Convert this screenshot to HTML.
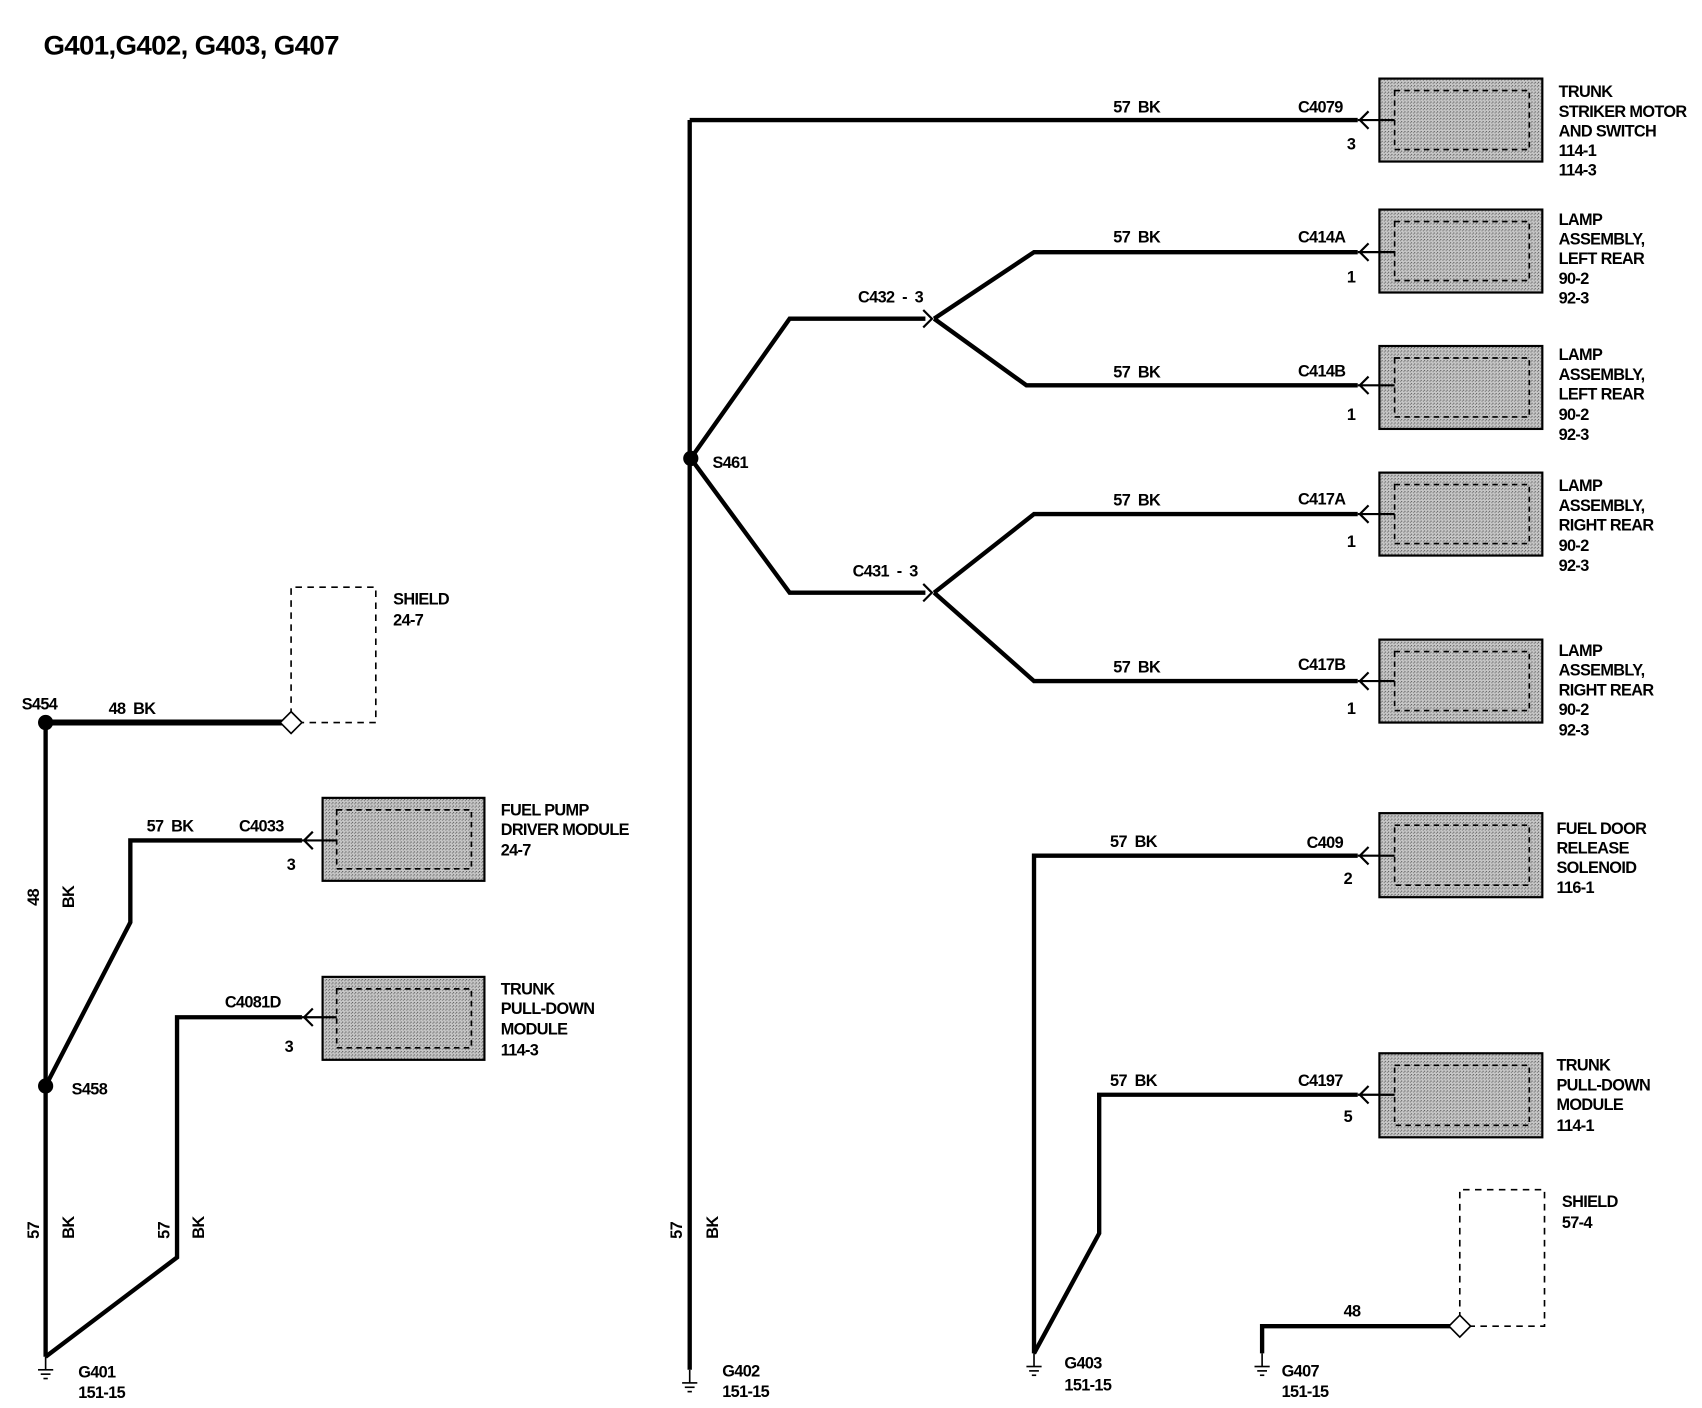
<!DOCTYPE html>
<html><head><meta charset="utf-8"><style>
html,body{margin:0;padding:0;background:#fff;}
svg{display:block;}
text{font-family:"Liberation Sans",Arial,sans-serif;font-weight:bold;fill:#000;letter-spacing:-0.6px;}
</style></head><body>
<svg width="1702" height="1408" viewBox="0 0 1567 1290" preserveAspectRatio="none" xmlns="http://www.w3.org/2000/svg">
<defs>
<pattern id="dots" width="3" height="3" patternUnits="userSpaceOnUse">
<rect width="3" height="3" fill="#c8c8c8"/><rect width="1" height="1" fill="#555"/><rect x="2" y="1" width="1" height="1" fill="#777"/>
</pattern>
<g id="gnd" stroke="#000" stroke-width="1.5" fill="none">
<line x1="0" y1="0" x2="0" y2="12"/><line x1="-7" y1="12" x2="7" y2="12"/><line x1="-4.5" y1="16" x2="4.5" y2="16"/><line x1="-2" y1="20" x2="2" y2="20"/>
</g>
</defs>
<text x="40" y="50" font-size="25" textLength="272" lengthAdjust="spacingAndGlyphs">G401,G402, G403, G407</text>

<g fill="none" stroke="#000" stroke-linejoin="miter">
<line x1="42" y1="662" x2="262" y2="662" stroke-width="5.5"/>
<line x1="42" y1="662" x2="42" y2="1243" stroke-width="4"/>
<polyline points="42,995 120,845 120,770 278,770" stroke-width="4"/>
<polyline points="42,1243 163,1152 163,932 278,932" stroke-width="4"/>
<line x1="635" y1="110" x2="635" y2="1255" stroke-width="4"/>
<line x1="635" y1="110" x2="1250" y2="110" stroke-width="4"/>
<polyline points="636,420 727,292 852,292" stroke-width="4"/>
<polyline points="860,292 952,231 1250,231" stroke-width="4"/>
<polyline points="860,292 945,353 1250,353" stroke-width="4"/>
<polyline points="636,420 727,543 852,543" stroke-width="4"/>
<polyline points="860,543 952,471 1250,471" stroke-width="4"/>
<polyline points="860,543 952,624 1250,624" stroke-width="4"/>
<polyline points="952,1240 952,784 1250,784" stroke-width="4"/>
<polyline points="952,1240 1012,1130 1012,1003 1250,1003" stroke-width="4"/>
<polyline points="1162,1240 1162,1215 1336,1215" stroke-width="4"/>
<polyline points="850,284 858,292 850,300" stroke-width="2"/>
<polyline points="850,535 858,543 850,551" stroke-width="2"/>
<path d="M268,655 V538 H346 V662 H276" stroke-width="1.5" stroke-dasharray="6,5"/>
<path d="M1344,1208 V1090 H1422 V1215 H1352" stroke-width="1.5" stroke-dasharray="6,5"/>
<path d="M268,652 L278,662 L268,672 L258,662 Z" stroke-width="1.5" fill="#fff"/>
<path d="M1344,1205 L1354,1215 L1344,1225 L1334,1215 Z" stroke-width="1.5" fill="#fff"/>
</g>
<g fill="#000"><circle cx="42" cy="662" r="7"/><circle cx="42" cy="995" r="7"/><circle cx="636" cy="420" r="7"/></g>
<use href="#gnd" x="42" y="1243"/><use href="#gnd" x="635" y="1255"/><use href="#gnd" x="952" y="1240"/><use href="#gnd" x="1162" y="1240"/>

<g stroke="#000" fill="none">
<rect x="297" y="731" width="149" height="76" fill="url(#dots)" stroke-width="2"/><rect x="310" y="742" width="124" height="54" stroke-dasharray="5,4" stroke-width="1.5"/>
<rect x="297" y="895" width="149" height="76" fill="url(#dots)" stroke-width="2"/><rect x="310" y="906" width="124" height="54" stroke-dasharray="5,4" stroke-width="1.5"/>
<rect x="1270" y="72" width="150" height="76" fill="url(#dots)" stroke-width="2"/><rect x="1284" y="83" width="124" height="54" stroke-dasharray="5,4" stroke-width="1.5"/>
<rect x="1270" y="192" width="150" height="76" fill="url(#dots)" stroke-width="2"/><rect x="1284" y="203" width="124" height="54" stroke-dasharray="5,4" stroke-width="1.5"/>
<rect x="1270" y="317" width="150" height="76" fill="url(#dots)" stroke-width="2"/><rect x="1284" y="328" width="124" height="54" stroke-dasharray="5,4" stroke-width="1.5"/>
<rect x="1270" y="433" width="150" height="76" fill="url(#dots)" stroke-width="2"/><rect x="1284" y="444" width="124" height="54" stroke-dasharray="5,4" stroke-width="1.5"/>
<rect x="1270" y="586" width="150" height="76" fill="url(#dots)" stroke-width="2"/><rect x="1284" y="597" width="124" height="54" stroke-dasharray="5,4" stroke-width="1.5"/>
<rect x="1270" y="745" width="150" height="77" fill="url(#dots)" stroke-width="2"/><rect x="1284" y="756" width="124" height="55" stroke-dasharray="5,4" stroke-width="1.5"/>
<rect x="1270" y="965" width="150" height="77" fill="url(#dots)" stroke-width="2"/><rect x="1284" y="976" width="124" height="55" stroke-dasharray="5,4" stroke-width="1.5"/>
<g stroke-width="2">
<path d="M278,770 H310 M288,762 L280,770 L288,778"/>
<path d="M278,932 H310 M288,924 L280,932 L288,940"/>
<path d="M1250,110 H1284 M1260,102 L1252,110 L1260,118"/>
<path d="M1250,231 H1284 M1260,223 L1252,231 L1260,239"/>
<path d="M1250,353 H1284 M1260,345 L1252,353 L1260,361"/>
<path d="M1250,471 H1284 M1260,463 L1252,471 L1260,479"/>
<path d="M1250,624 H1284 M1260,616 L1252,624 L1260,632"/>
<path d="M1250,784 H1284 M1260,776 L1252,784 L1260,792"/>
<path d="M1250,1003 H1284 M1260,995 L1252,1003 L1260,1011"/>
</g>
</g>

<g font-size="15">
<text x="20" y="650">S454</text>
<text x="100" y="654">48&#160;&#160;BK</text>
<text x="362" y="554">SHIELD</text><text x="362" y="573">24-7</text>
<text x="66" y="1003">S458</text>
<text x="135" y="762">57&#160;&#160;BK</text><text x="220" y="762">C4033</text><text x="264" y="797">3</text>
<text x="461" y="747">FUEL PUMP</text><text x="461" y="765">DRIVER MODULE</text><text x="461" y="784">24-7</text>
<text x="207" y="923">C4081D</text><text x="262" y="964">3</text>
<text x="461" y="911">TRUNK</text><text x="461" y="929">PULL-DOWN</text><text x="461" y="948">MODULE</text><text x="461" y="967">114-3</text>
<text x="72" y="1262">G401</text><text x="72" y="1281">151-15</text>
<text transform="translate(36,830) rotate(-90)">48</text><text transform="translate(68,832) rotate(-90)">BK</text>
<text transform="translate(36,1135) rotate(-90)">57</text><text transform="translate(68,1135) rotate(-90)">BK</text>
<text transform="translate(156,1135) rotate(-90)">57</text><text transform="translate(188,1135) rotate(-90)">BK</text>
<text transform="translate(628,1135) rotate(-90)">57</text><text transform="translate(661,1135) rotate(-90)">BK</text>
<text x="665" y="1261">G402</text><text x="665" y="1280">151-15</text>
<text x="656" y="429">S461</text>
<text x="790" y="277">C432&#160;&#160;-&#160;&#160;3</text>
<text x="785" y="528">C431&#160;&#160;-&#160;&#160;3</text>
<text x="1025" y="103">57&#160;&#160;BK</text><text x="1195" y="103">C4079</text><text x="1240" y="137">3</text>
<text x="1435" y="89">TRUNK</text><text x="1435" y="107">STRIKER MOTOR</text><text x="1435" y="125">AND SWITCH</text><text x="1435" y="143">114-1</text><text x="1435" y="161">114-3</text>
<text x="1025" y="222">57&#160;&#160;BK</text><text x="1195" y="222">C414A</text><text x="1240" y="259">1</text>
<text x="1435" y="206">LAMP</text><text x="1435" y="224">ASSEMBLY,</text><text x="1435" y="242">LEFT REAR</text><text x="1435" y="260">90-2</text><text x="1435" y="278">92-3</text>
<text x="1025" y="346">57&#160;&#160;BK</text><text x="1195" y="345">C414B</text><text x="1240" y="385">1</text>
<text x="1435" y="330">LAMP</text><text x="1435" y="348">ASSEMBLY,</text><text x="1435" y="366">LEFT REAR</text><text x="1435" y="385">90-2</text><text x="1435" y="403">92-3</text>
<text x="1025" y="463">57&#160;&#160;BK</text><text x="1195" y="462">C417A</text><text x="1240" y="501">1</text>
<text x="1435" y="450">LAMP</text><text x="1435" y="468">ASSEMBLY,</text><text x="1435" y="486">RIGHT REAR</text><text x="1435" y="505">90-2</text><text x="1435" y="523">92-3</text>
<text x="1025" y="616">57&#160;&#160;BK</text><text x="1195" y="614">C417B</text><text x="1240" y="654">1</text>
<text x="1435" y="601">LAMP</text><text x="1435" y="619">ASSEMBLY,</text><text x="1435" y="637">RIGHT REAR</text><text x="1435" y="655">90-2</text><text x="1435" y="674">92-3</text>
<text x="1022" y="776">57&#160;&#160;BK</text><text x="1203" y="777">C409</text><text x="1237" y="810">2</text>
<text x="1433" y="764">FUEL DOOR</text><text x="1433" y="782">RELEASE</text><text x="1433" y="800">SOLENOID</text><text x="1433" y="818">116-1</text>
<text x="1022" y="995">57&#160;&#160;BK</text><text x="1195" y="995">C4197</text><text x="1237" y="1028">5</text>
<text x="1433" y="981">TRUNK</text><text x="1433" y="999">PULL-DOWN</text><text x="1433" y="1017">MODULE</text><text x="1433" y="1036">114-1</text>
<text x="980" y="1254">G403</text><text x="980" y="1274">151-15</text>
<text x="1237" y="1206">48</text>
<text x="1438" y="1106">SHIELD</text><text x="1438" y="1125">57-4</text>
<text x="1180" y="1261">G407</text><text x="1180" y="1280">151-15</text>
</g>
</svg>
</body></html>
